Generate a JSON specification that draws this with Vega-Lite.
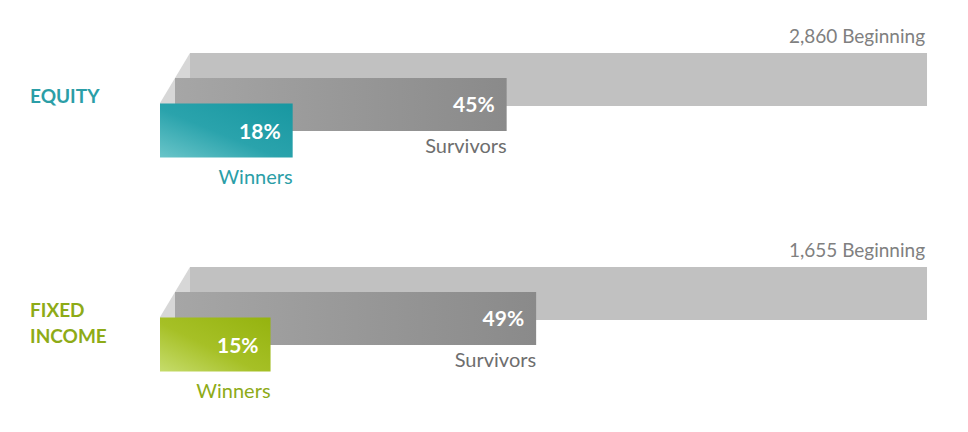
{
  "$schema": "https://vega.github.io/schema/vega-lite/v6.json",
  "width": 968,
  "height": 432,
  "autosize": {"type": "fit", "contains": "padding"},
  "padding": 0,
  "background": "white",
  "config": {"view": {"stroke": null}, "text": {"font": "Lato"}},
  "data": {
    "values": [
      {"group": "EQUITY", "stage": "Beginning", "share": 1.0, "count": 2860},
      {"group": "EQUITY", "stage": "Survivors", "share": 0.45},
      {"group": "EQUITY", "stage": "Winners", "share": 0.18},
      {"group": "FIXED INCOME", "stage": "Beginning", "share": 1.0, "count": 1655},
      {"group": "FIXED INCOME", "stage": "Survivors", "share": 0.49},
      {"group": "FIXED INCOME", "stage": "Winners", "share": 0.15}
    ]
  },
  "encoding": {
    "y": {
      "field": "group",
      "type": "nominal",
      "scale": {"type": "point", "domain": ["EQUITY", "FIXED INCOME"], "padding": 0.5093, "align": 0.3647},
      "axis": null
    },
    "x": {
      "field": "share",
      "type": "quantitative",
      "scale": {"domain": [-0.2578, 1.0556], "nice": false, "zero": false},
      "axis": null
    }
  },
  "layer": [
    {
      "transform": [{"filter": "datum.stage === 'Beginning'"}],
      "mark": {"type": "bar", "height": 53, "color": "#c1c1c1"},
      "encoding": {"x2": {"datum": 0}}
    },
    {
      "transform": [{"filter": "datum.stage === 'Beginning'"}],
      "mark": {
        "type": "point",
        "shape": "M 0.288 -1 L 0.288 0.02 L -0.288 1 L -0.288 -0.04 Z",
        "size": 10816,
        "filled": true,
        "opacity": 1,
        "color": "#d7d7d7",
        "strokeWidth": 0,
        "xOffset": -15,
        "yOffset": 25.5
      },
      "encoding": {"x": {"datum": 0}}
    },
    {
      "transform": [{"filter": "datum.stage === 'Survivors'"}],
      "mark": {
        "type": "bar",
        "height": 53,
        "xOffset": -15,
        "x2Offset": -15,
        "yOffset": 25,
        "y2Offset": 25,
        "color": {
          "gradient": "linear",
          "x1": 0, "y1": 0, "x2": 1, "y2": 0,
          "stops": [
            {"offset": 0, "color": "#a6a6a6"},
            {"offset": 1, "color": "#8a8a8a"}
          ]
        }
      },
      "encoding": {"x2": {"datum": 0}}
    },
    {
      "transform": [{"filter": "datum.stage === 'Winners' && datum.group === 'EQUITY'"}],
      "mark": {
        "type": "bar",
        "height": 54,
        "xOffset": -30,
        "x2Offset": -30,
        "yOffset": 51,
        "y2Offset": 51,
        "color": {
          "gradient": "linear",
          "x1": 0, "y1": 1, "x2": 1, "y2": 0,
          "stops": [
            {"offset": 0, "color": "#6ac5c9"},
            {"offset": 0.45, "color": "#2aa3ac"},
            {"offset": 1, "color": "#1897a1"}
          ]
        }
      },
      "encoding": {"x2": {"datum": 0}}
    },
    {
      "transform": [{"filter": "datum.stage === 'Winners' && datum.group === 'FIXED INCOME'"}],
      "mark": {
        "type": "bar",
        "height": 54,
        "xOffset": -30,
        "x2Offset": -30,
        "yOffset": 51,
        "y2Offset": 51,
        "color": {
          "gradient": "linear",
          "x1": 0, "y1": 1, "x2": 1, "y2": 0,
          "stops": [
            {"offset": 0, "color": "#c6dc6c"},
            {"offset": 0.45, "color": "#a6c026"},
            {"offset": 1, "color": "#95b30f"}
          ]
        }
      },
      "encoding": {"x2": {"datum": 0}}
    },
    {
      "transform": [
        {"filter": "datum.stage === 'Beginning'"},
        {"calculate": "format(datum.count, ',') + ' ' + datum.stage", "as": "label"}
      ],
      "mark": {"type": "text", "align": "right", "baseline": "alphabetic", "dx": -2, "dy": -37, "fontSize": 19, "color": "#808080"},
      "encoding": {"text": {"field": "label"}}
    },
    {
      "transform": [{"filter": "datum.stage === 'Survivors'"}],
      "mark": {"type": "text", "align": "right", "baseline": "alphabetic", "dx": -27, "dy": 32, "fontSize": 21, "fontWeight": "bold", "color": "white"},
      "encoding": {"text": {"field": "share", "type": "quantitative", "format": ".0%"}}
    },
    {
      "transform": [{"filter": "datum.stage === 'Survivors'"}],
      "mark": {"type": "text", "align": "right", "baseline": "alphabetic", "dx": -15, "dy": 73.5, "fontSize": 20, "color": "#6e6e6e"},
      "encoding": {"text": {"field": "stage"}}
    },
    {
      "transform": [{"filter": "datum.stage === 'Winners'"}],
      "mark": {"type": "text", "align": "right", "baseline": "alphabetic", "dx": -42, "dy": 59, "fontSize": 21, "fontWeight": "bold", "color": "white"},
      "encoding": {"text": {"field": "share", "type": "quantitative", "format": ".0%"}}
    },
    {
      "transform": [{"filter": "datum.stage === 'Winners'"}],
      "mark": {"type": "text", "align": "right", "baseline": "alphabetic", "dx": -30, "dy": 104, "fontSize": 20},
      "encoding": {
        "text": {"field": "stage"},
        "color": {"field": "group", "type": "nominal", "scale": {"domain": ["EQUITY", "FIXED INCOME"], "range": ["#2b9ea7", "#8eab17"]}, "legend": null}
      }
    },
    {
      "transform": [{"filter": "datum.stage === 'Beginning'"}],
      "mark": {"type": "text", "align": "left", "baseline": "alphabetic", "dx": -160, "dy": 23.5, "fontSize": 19, "fontWeight": "bold", "lineBreak": " ", "lineHeight": 26},
      "encoding": {
        "x": {"datum": 0},
        "text": {"field": "group"},
        "color": {"field": "group", "type": "nominal", "scale": {"domain": ["EQUITY", "FIXED INCOME"], "range": ["#2b9ea7", "#9ab51d"]}, "legend": null}
      }
    }
  ]
}
